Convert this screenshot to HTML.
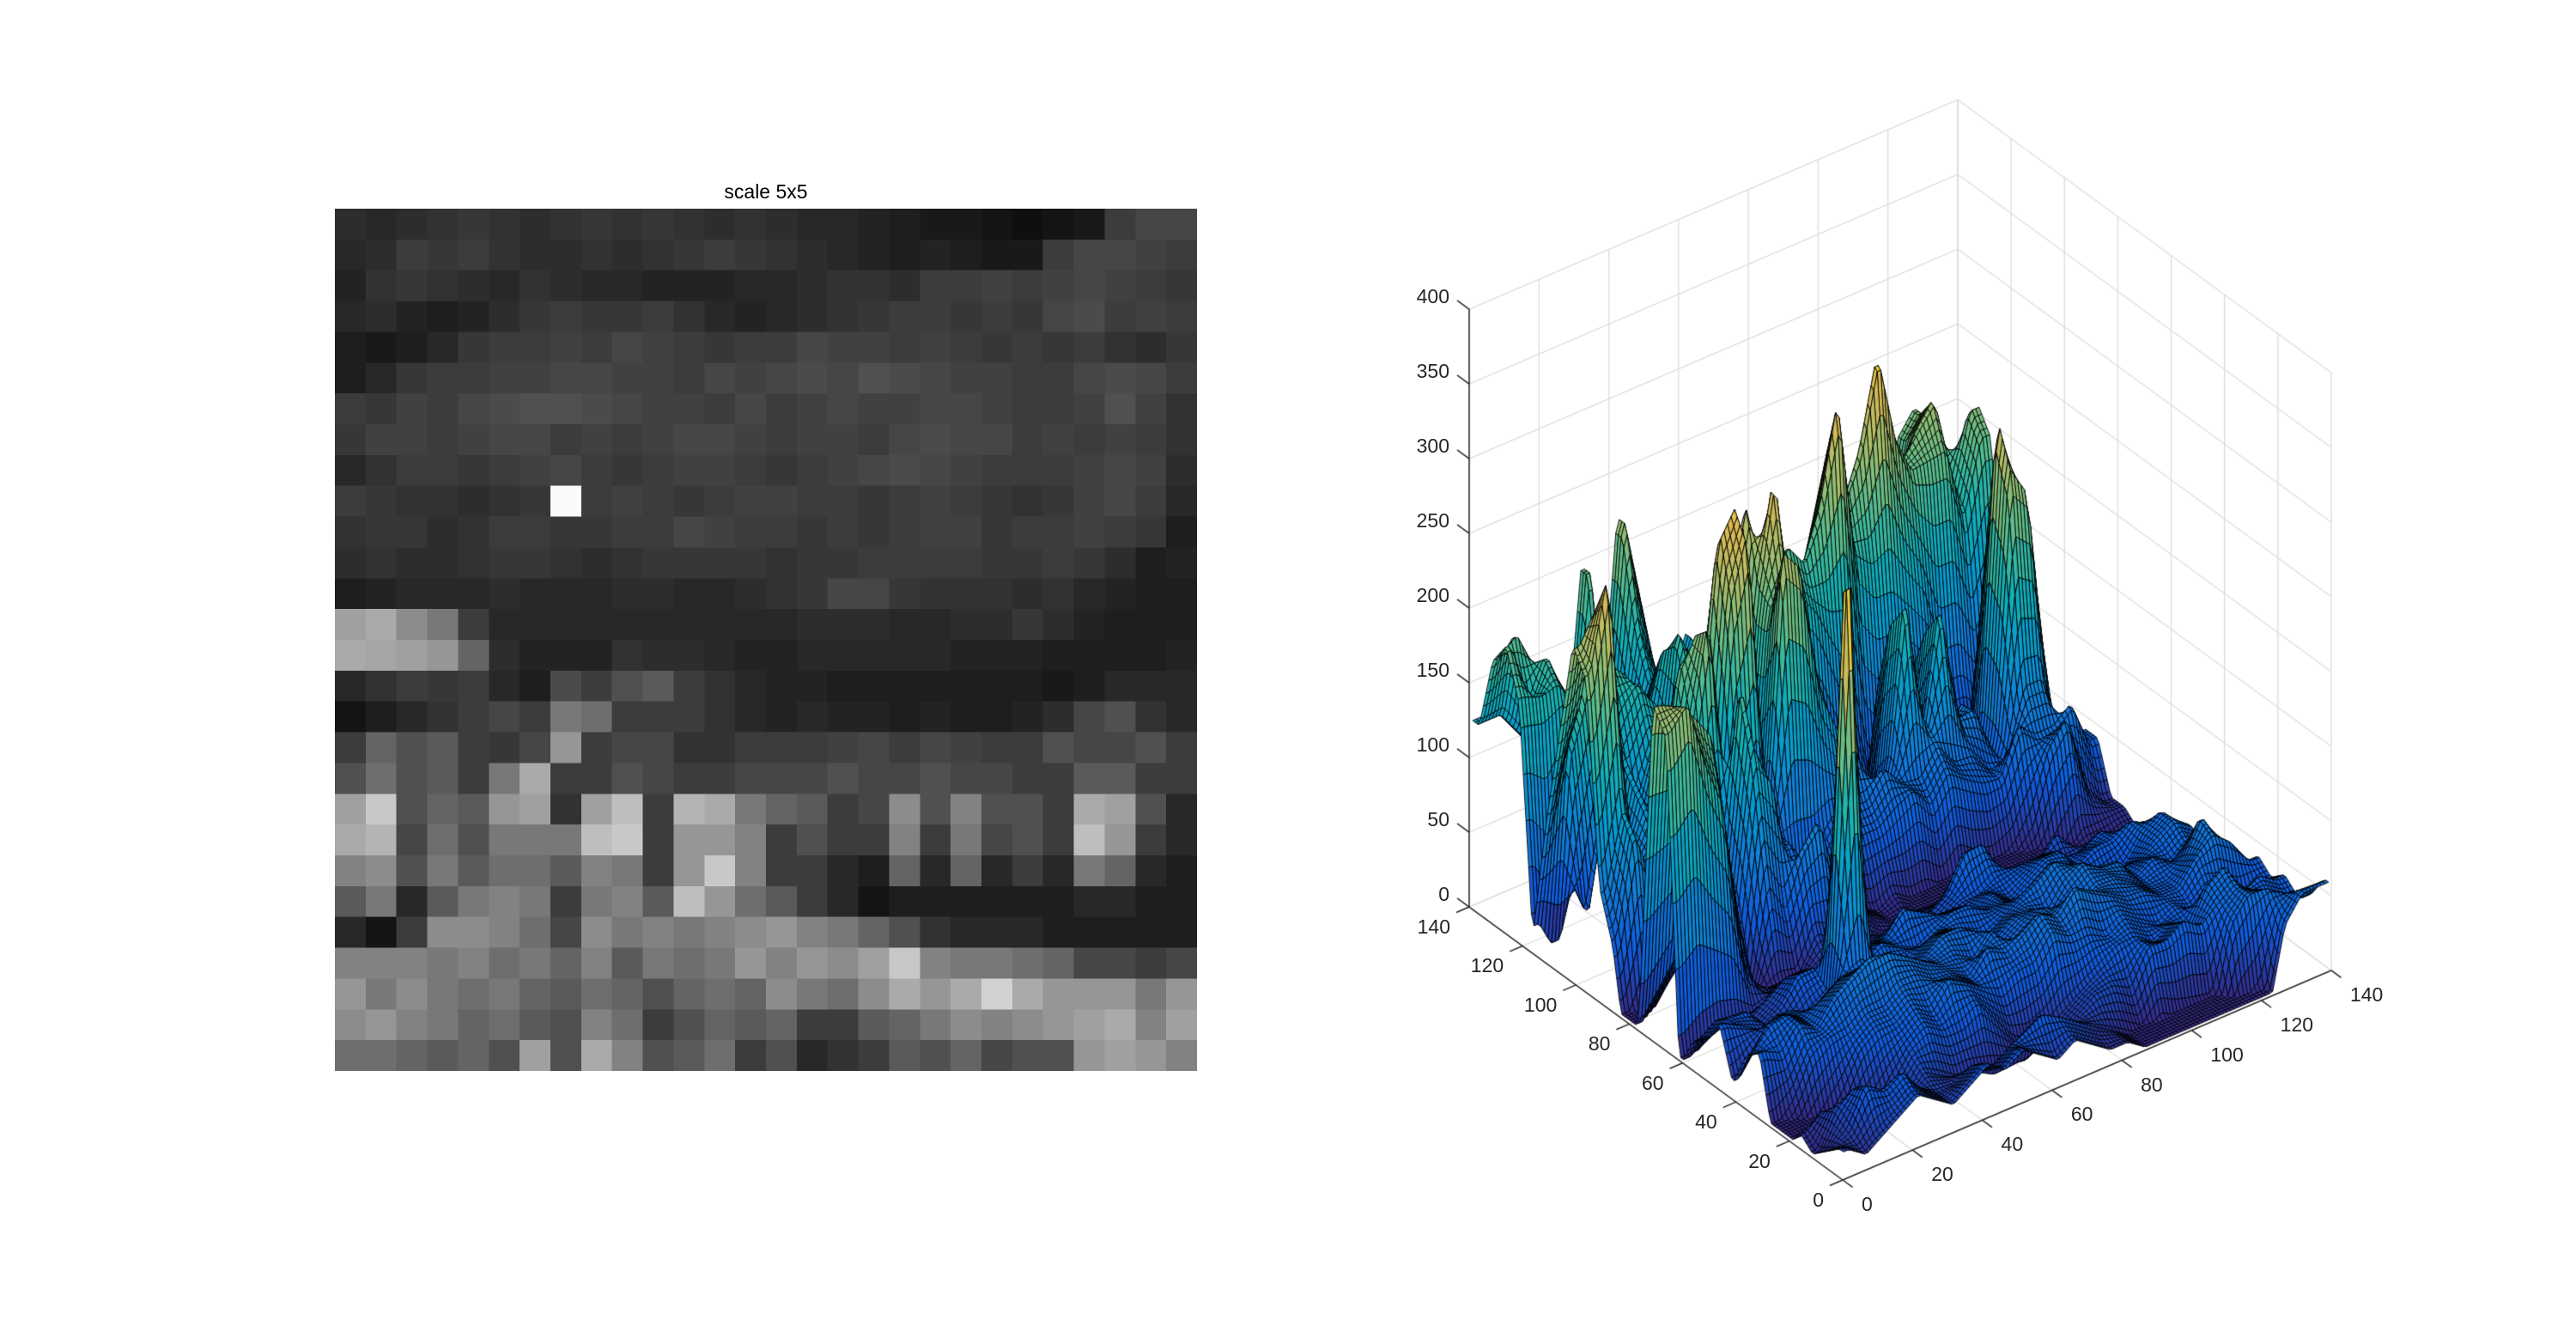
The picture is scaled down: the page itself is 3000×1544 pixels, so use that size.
<!DOCTYPE html>
<html><head><meta charset="utf-8"><style>
html,body{margin:0;padding:0;background:#fff;}
#root{position:relative;width:3000px;height:1544px;overflow:hidden;background:#fff;font-family:"Liberation Sans",Arial,sans-serif;color:#262626;}
.lbl{position:absolute;font-size:23px;line-height:23px;white-space:nowrap;}
</style></head><body>
<div id="root">
<div class="lbl" style="left:390px;width:1004px;text-align:center;top:212px;font-size:23px;color:#000;">scale 5x5</div>
<canvas id="img" width="28" height="28" style="position:absolute;left:390px;top:243px;width:1004px;height:1004px;image-rendering:pixelated;"></canvas>
<canvas id="surf" width="3000" height="1544" style="position:absolute;left:0;top:0;"></canvas>
</div>
<script>
// intensity data (28x28 blocks, rows = y, cols = x)
const intensityRows = [
[45,40,45,50,55,50,45,50,55,50,55,50,45,50,45,40,40,35,30,25,25,20,15,20,25,60,70,70],
[40,45,60,55,60,50,45,45,50,45,50,55,60,55,50,45,40,35,30,35,30,25,25,60,70,70,65,60],
[35,50,55,50,45,40,50,45,40,40,35,35,35,40,40,45,50,50,45,60,60,65,60,65,70,65,60,55],
[40,45,35,30,35,45,55,60,55,55,60,50,40,35,40,45,50,55,60,60,55,60,55,70,75,60,65,60],
[30,25,30,40,55,60,60,65,60,70,65,60,55,60,60,70,65,65,60,65,60,55,60,55,60,50,45,55],
[30,40,55,60,60,65,65,70,70,65,65,60,70,65,70,75,70,80,75,70,65,65,60,60,70,75,70,60],
[60,55,65,60,70,75,80,80,75,70,65,65,60,70,60,65,70,65,65,70,70,65,60,60,65,80,65,50],
[55,65,65,60,65,70,70,60,65,60,65,70,70,65,60,65,65,60,70,75,70,70,60,65,60,65,60,50],
[40,50,60,60,55,60,65,70,60,55,60,65,65,60,55,60,65,70,75,70,65,60,60,60,65,70,65,45],
[60,55,50,50,45,50,55,250,60,65,60,55,60,65,65,60,60,55,60,65,60,55,50,55,65,70,60,40],
[50,55,55,45,50,60,60,55,55,60,60,70,65,60,60,55,60,55,60,65,65,55,60,60,65,60,55,30],
[45,50,45,45,50,55,55,50,45,50,55,55,55,55,50,55,55,60,60,60,60,55,55,60,55,45,30,35],
[30,35,40,40,40,45,40,40,40,45,45,40,40,45,50,55,70,70,55,50,50,50,45,50,40,35,30,30],
[160,170,140,120,60,40,40,40,40,40,40,40,40,40,40,45,45,45,40,40,45,45,55,45,35,30,30,30],
[170,165,160,150,100,45,35,35,35,50,45,45,40,35,35,40,40,40,40,40,35,35,35,30,30,30,30,35],
[40,50,60,55,60,40,30,75,60,80,90,60,50,40,35,35,30,30,30,30,30,30,30,25,30,40,40,40],
[20,30,40,50,60,70,60,120,110,60,60,60,50,40,35,40,35,35,30,35,30,30,35,45,70,80,50,40],
[60,100,80,90,60,55,70,150,60,70,70,50,50,60,60,60,65,70,60,70,65,60,60,80,70,70,80,60],
[80,110,80,90,60,120,170,60,60,80,70,60,60,70,70,70,80,70,70,80,70,70,60,60,90,90,60,60],
[160,200,80,100,90,150,160,50,160,190,60,180,170,120,100,90,60,70,140,80,130,80,80,60,170,160,80,40],
[170,180,70,110,80,120,120,120,190,200,60,150,150,130,60,80,60,60,130,60,120,70,80,60,190,150,60,40],
[130,140,80,120,90,110,110,90,130,120,60,150,200,130,60,60,40,30,100,40,100,40,60,40,120,100,40,30],
[90,120,40,90,120,130,120,60,120,130,90,190,150,110,90,60,40,20,30,30,30,30,30,30,40,40,30,30],
[40,20,60,140,140,130,110,70,140,120,130,120,130,140,150,130,120,100,80,50,40,40,40,30,30,30,30,30],
[130,130,130,120,130,110,120,100,130,90,120,110,120,150,130,150,140,160,200,130,120,120,110,100,70,70,60,70],
[150,120,140,120,110,120,100,90,110,100,80,100,110,100,140,120,110,140,170,150,170,210,170,150,150,150,120,150],
[140,150,130,120,100,110,90,80,130,110,60,80,100,90,100,60,60,90,100,120,140,130,140,150,160,170,130,160],
[110,110,100,90,100,80,160,80,170,130,80,90,110,60,80,40,50,60,90,80,100,70,80,80,150,160,150,130]
];
const xTicks = [0,20,40,60,80,100,120,140];
const yTicks = [0,20,40,60,80,100,120,140];
const zTicks = [0,50,100,150,200,250,300,350,400];

// ---- grayscale image
(function(){
  const c=document.getElementById('img').getContext('2d');
  const im=c.createImageData(28,28);
  for(let r=0;r<28;r++)for(let k=0;k<28;k++){
    const v=intensityRows[r][k], i=(r*28+k)*4;
    im.data[i]=im.data[i+1]=im.data[i+2]=v; im.data[i+3]=255;
  }
  c.putImageData(im,0,0);
})();

// ---- 3D projection
const O=[2146,1374], EX=[4.064,-1.743], EY=[-3.107,-2.271], EZ=-1.74;
function P(x,y,z){return [O[0]+x*EX[0]+y*EY[0], O[1]+x*EX[1]+y*EY[1]+z*EZ];}
const root=document.getElementById('root');
const ctx=document.getElementById('surf').getContext('2d');
function line(a,b,col,w){ctx.strokeStyle=col;ctx.lineWidth=w;ctx.beginPath();ctx.moveTo(a[0],a[1]);ctx.lineTo(b[0],b[1]);ctx.stroke();}
const G='#dcdcdc';
xTicks.forEach(x=>{line(P(x,0,0),P(x,140,0),G,1.3);line(P(x,140,0),P(x,140,400),G,1.3);});
yTicks.forEach(y=>{line(P(0,y,0),P(140,y,0),G,1.3);line(P(140,y,0),P(140,y,400),G,1.3);});
zTicks.forEach(z=>{line(P(0,140,z),P(140,140,z),G,1.3);line(P(140,0,z),P(140,140,z),G,1.3);});

// surface
function zAt(x,y){
  let fx=(x-2.5)/5, fy=(y-2.5)/5;
  fx=Math.max(0,Math.min(27,fx)); fy=Math.max(0,Math.min(27,fy));
  const x0=Math.min(26,Math.floor(fx)), y0=Math.min(26,Math.floor(fy));
  const tx=fx-x0, ty=fy-y0;
  const a=intensityRows[y0][x0],b=intensityRows[y0][x0+1],c=intensityRows[y0+1][x0],d=intensityRows[y0+1][x0+1];
  const g=(a*(1-tx)+b*tx)*(1-ty)+(c*(1-tx)+d*tx)*ty;
  return Math.max(0,g-35)*1.65;
}
const stops=[[53,42,135],[15,92,221],[18,125,216],[7,156,207],[21,177,180],[89,189,140],[165,190,107],[225,185,82],[249,251,14]];
function parula(t){t=Math.max(0,Math.min(1,t))*8;const i=Math.min(7,Math.floor(t)),f=t-i;const a=stops[i],b=stops[i+1];
  return 'rgb('+Math.round(a[0]+(b[0]-a[0])*f)+','+Math.round(a[1]+(b[1]-a[1])*f)+','+Math.round(a[2]+(b[2]-a[2])*f)+')';}
const N=140, Z=[];
let zmin=1e9,zmax=-1e9;
for(let j=1;j<=N;j++){Z[j]=[];for(let i=1;i<=N;i++){const v=zAt(i,j);Z[j][i]=v;zmin=Math.min(zmin,v);zmax=Math.max(zmax,v);}}
const quads=[];
for(let j=1;j<N;j++)for(let i=1;i<N;i++)quads.push([i,j,1.743*i+2.271*j]);
quads.sort((a,b)=>b[2]-a[2]);
ctx.lineWidth=0.9;ctx.strokeStyle='#000';
quads.forEach(q=>{const i=q[0],j=q[1];
  const z1=Z[j][i],z2=Z[j][i+1],z3=Z[j+1][i+1],z4=Z[j+1][i];
  const p1=P(i,j,z1),p2=P(i+1,j,z2),p3=P(i+1,j+1,z3),p4=P(i,j+1,z4);
  ctx.fillStyle=parula(((z1+z2+z3+z4)/4-zmin)/(zmax-zmin));
  ctx.beginPath();ctx.moveTo(p1[0],p1[1]);ctx.lineTo(p2[0],p2[1]);ctx.lineTo(p3[0],p3[1]);ctx.lineTo(p4[0],p4[1]);ctx.closePath();
  ctx.fill();ctx.stroke();});

// axes
const A='#262626';
line(P(0,140,0),P(0,140,400),A,1.5);
line(P(0,0,0),P(0,140,0),A,1.5);
line(P(0,0,0),P(140,0,0),A,1.5);
zTicks.forEach(z=>{line(P(0,140,z),P(0,144.5,z),A,1.5);
  const p=P(0,140,z);const d=document.createElement('div');
  
  
  d.className='lbl';d.textContent=z;d.style.left=(p[0]-100-23)+'px';d.style.width='100px';d.style.textAlign='right';d.style.top=(p[1]-26)+'px';root.appendChild(d);});
yTicks.forEach(y=>{line(P(0,y,0),P(-3.7,y,0),A,1.5);
  const p=P(0,y,0);const d=document.createElement('div');
  
  
  d.className='lbl';d.textContent=y;d.style.left=(p[0]-100-22)+'px';d.style.width='100px';d.style.textAlign='right';d.style.top=(p[1]+12)+'px';root.appendChild(d);});
xTicks.forEach(x=>{line(P(x,0,0),P(x,-3.7,0),A,1.5);
  const p=P(x,0,0);const d=document.createElement('div');
  
  
  d.className='lbl';d.textContent=x;d.style.left=(p[0]+22)+'px';d.style.top=(p[1]+17)+'px';root.appendChild(d);});
</script>
</body></html>
